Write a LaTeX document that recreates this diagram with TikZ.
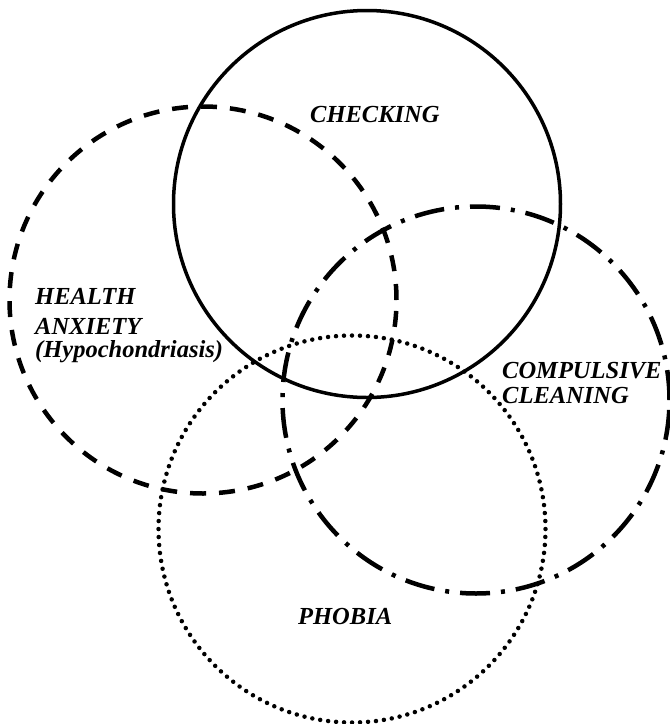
\documentclass[tikz,border=0pt]{standalone}
\usepackage{fontspec}
\setmainfont{Liberation Serif}
\begin{document}
\begin{tikzpicture}[x=1pt,y=-1pt,
  set/.style={draw, circle, inner sep=0pt, minimum size=387pt},
  tag/.style={inner sep=0pt, align=left, font=\fontsize{24.5}{30}\selectfont\bfseries\itshape}]
\useasboundingbox (0,0) rectangle (670,724);
\node[set, line width=3.5pt] (checking) at (367,204) {};
\node[set, line width=4.5pt, dash pattern=on 16pt off 13pt] (health) at (203,300) {};
\node[set, line width=4.5pt, dash pattern=on 30pt off 11pt on 4pt off 11pt] (cleaning) at (476,400) {};
\node[set, line width=4.5pt, line cap=round, dash pattern=on 0pt off 8pt] (phobia) at (352,529) {};
\node[tag, anchor=base west] (checkingtext) at (310,122) {CHECKING};
\node[tag, anchor=base west] (healthtext) at (35,357) {HEALTH\\ANXIETY\\[-7pt](Hypochondriasis)};
\node[tag, anchor=base west] (cleaningtext) at (502,403) {COMPULSIVE\\[-5pt]CLEANING};
\node[tag, anchor=base west] (phobiatext) at (298,624) {PHOBIA};
\end{tikzpicture}
\end{document}
